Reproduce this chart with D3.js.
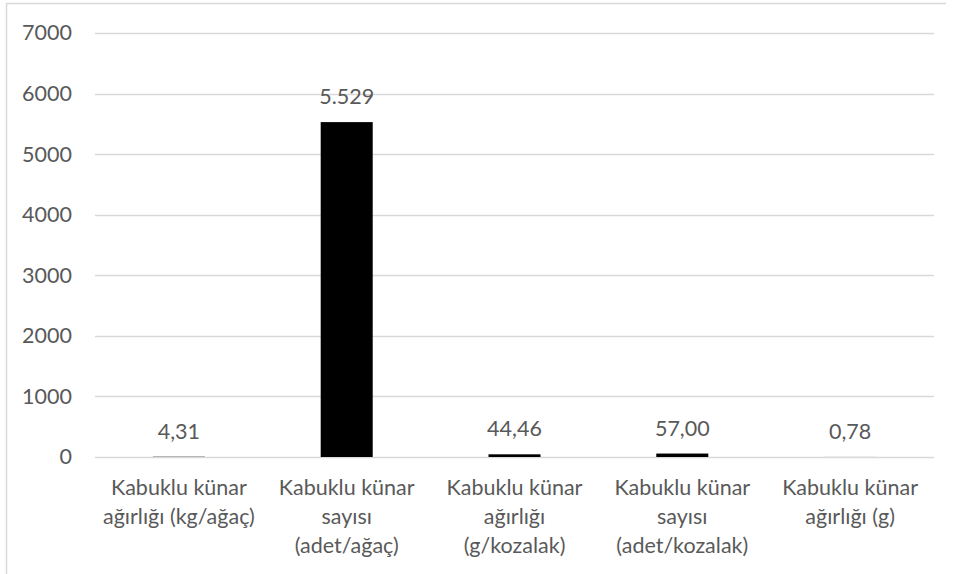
<!DOCTYPE html>
<html>
<head>
<meta charset="utf-8">
<script src="https://cdn.jsdelivr.net/npm/d3@7"></script>
<style>
  html, body { margin: 0; padding: 0; background: #fff; }
  svg { display: block; }
  text { font-family: Lato, "Open Sans", sans-serif; fill: #595959; }
</style>
</head>
<body>
<svg id="chart" width="955" height="574"></svg>
<script>
// Kabuklu künar ölçümleri
const categories = [
  ["Kabuklu künar", "ağırlığı (kg/ağaç)"],
  ["Kabuklu künar", "sayısı", "(adet/ağaç)"],
  ["Kabuklu künar", "ağırlığı", "(g/kozalak)"],
  ["Kabuklu künar", "sayısı", "(adet/kozalak)"],
  ["Kabuklu künar", "ağırlığı (g)"]
];
const values = [4.31, 5529, 44.46, 57.00, 0.78];
const decimals = [2, 0, 2, 2, 2];
const yTicks = [0, 1000, 2000, 3000, 4000, 5000, 6000, 7000];

const tr = d3.formatLocale({ decimal: ",", thousands: ".", grouping: [3], currency: ["", " ₺"] });

const svg = d3.select("#chart");
const W = 955, H = 574;
const plot = { left: 95, right: 934, top: 33, bottom: 457 };
const FS = "21.5px";

// outer frame (left and top edges visible)
svg.append("path")
  .attr("d", `M6.5,${H} L6.5,3.5 L946,3.5`)
  .attr("fill", "none")
  .attr("stroke", "#d9d9d9")
  .attr("stroke-width", 1.5);

const x = d3.scaleBand()
  .domain(d3.range(categories.length))
  .range([plot.left, plot.right])
  .paddingInner(0.69)
  .paddingOuter(0.345);

const y = d3.scaleLinear()
  .domain([0, 7000])
  .range([plot.bottom, plot.top]);

// gridlines
svg.append("g")
  .selectAll("line")
  .data(yTicks)
  .join("line")
  .attr("x1", plot.left)
  .attr("x2", plot.right)
  .attr("y1", d => Math.round(y(d)) + 0.5)
  .attr("y2", d => Math.round(y(d)) + 0.5)
  .attr("stroke", "#d9d9d9")
  .attr("stroke-width", 1.3);

// y axis labels
const yAxis = svg.append("g")
  .attr("transform", `translate(${plot.left},0)`)
  .call(d3.axisLeft(y).tickValues(yTicks).tickSize(0).tickPadding(23).tickFormat(d3.format("d")));
yAxis.select(".domain").remove();
yAxis.selectAll("text")
  .style("font-family", "Lato, 'Open Sans', sans-serif")
  .style("font-size", FS)
  .attr("fill", "#595959");

// bars
svg.append("g")
  .selectAll("rect")
  .data(values)
  .join("rect")
  .attr("x", (d, i) => x(i))
  .attr("width", x.bandwidth())
  .attr("y", d => y(d))
  .attr("height", d => y(0) - y(d))
  .attr("fill", "#000");

// value labels
svg.append("g")
  .selectAll("text")
  .data(values)
  .join("text")
  .attr("x", (d, i) => x(i) + x.bandwidth() / 2)
  .attr("y", d => y(d) - 18)
  .attr("text-anchor", "middle")
  .style("font-size", FS)
  .text((d, i) => tr.format(`,.${decimals[i]}f`)(d));

// category labels
const cat = svg.append("g")
  .selectAll("text")
  .data(categories)
  .join("text")
  .attr("x", (d, i) => x(i) + x.bandwidth() / 2)
  .attr("y", 495)
  .attr("text-anchor", "middle")
  .style("font-size", FS);
cat.selectAll("tspan")
  .data(d => d)
  .join("tspan")
  .attr("x", function () { return d3.select(this.parentNode).attr("x"); })
  .attr("dy", (d, i) => i === 0 ? 0 : 29)
  .text(d => d);
</script>
</body>
</html>
